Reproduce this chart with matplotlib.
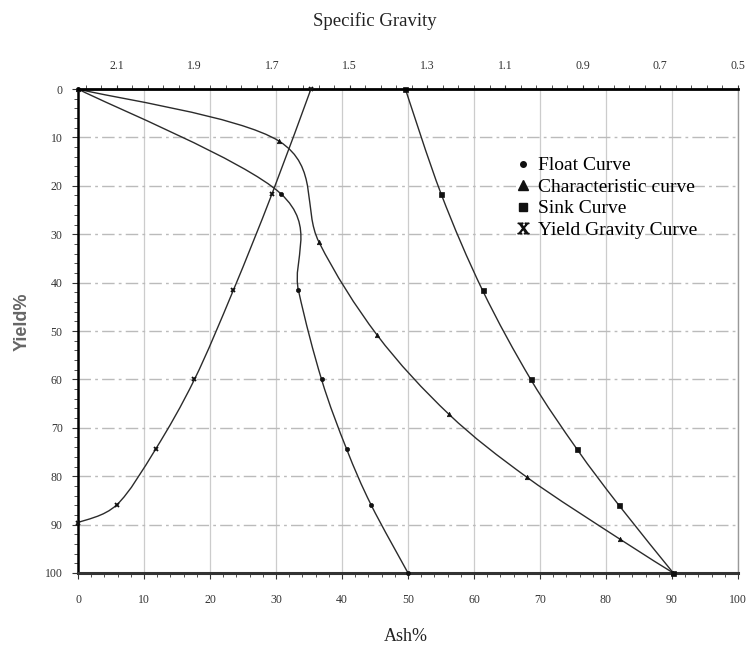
import numpy as np
import matplotlib.pyplot as plt
from matplotlib.path import Path
from matplotlib.patches import PathPatch
from matplotlib.lines import Line2D
from matplotlib.ticker import MultipleLocator, FixedLocator

plt.rcParams['font.family'] = ['Liberation Serif', 'DejaVu Serif']
plt.rcParams['mathtext.fontset'] = 'stix'

# cumulative yield (%) at each fraction boundary
yield_pts = [0, 21.6, 41.6, 60.0, 74.4, 85.9, 100]
float_ash = [0, 30.7, 33.4, 36.9, 40.7, 44.4, 50.0]
sink_ash = [49.6, 55.0, 61.3, 68.6, 75.6, 81.9, 90.2]

# characteristic (instantaneous ash) curve
char_yield = [0, 10.8, 31.6, 50.8, 67.2, 80.2, 93.0, 100]
char_ash = [0, 30.5, 36.5, 45.3, 56.2, 68.0, 82.1, 90.2]

# yield - specific gravity curve
sg = [1.6, 1.7, 1.8, 1.9, 2.0, 2.1, 2.2]
sg_yield = [0, 21.6, 41.6, 60.0, 74.4, 85.9, 89.6]

ash_ticks = list(range(0, 101, 10))
sg_ticks = [2.1, 1.9, 1.7, 1.5, 1.3, 1.1, 0.9, 0.7, 0.5]


def smooth_path(xs, ys):
    # excel-like smoothed line: catmull-rom segments as cubic beziers
    p = np.column_stack([xs, ys]).astype(float)
    n = len(p)
    verts = [p[0]]
    codes = [Path.MOVETO]
    for i in range(n - 1):
        p0 = p[max(i - 1, 0)]
        p1 = p[i]
        p2 = p[i + 1]
        p3 = p[min(i + 2, n - 1)]
        verts += [p1 + (p2 - p0) / 6, p2 - (p3 - p1) / 6, p2]
        codes += [Path.CURVE4] * 3
    return Path(verts, codes)


fig = plt.figure(figsize=(7.48, 6.47), dpi=100)
ax = fig.add_axes([0.1043, 0.1144, 0.8823, 0.748])
ax2 = ax.twiny()

ax.set_xlim(0, 100)
ax.set_ylim(100, 0)
ax2.set_xlim(2.2, 0.5)

line_col = '#2b2b2b'
for a, xs, ys, mk, ms in [(ax, float_ash, yield_pts, 'o', 3.0),
                          (ax, char_ash, char_yield, '^', 3.2),
                          (ax, sink_ash, yield_pts, 's', 3.6),
                          (ax2, sg, sg_yield, 'x', 2.5)]:
    a.add_patch(PathPatch(smooth_path(xs, ys), fill=False, lw=1.0,
                          ec=line_col, zorder=3))
    a.plot(xs, ys, ls='none', marker=mk, ms=ms, color='#111111',
           mew=1.3 if mk == 'x' else 0.5, clip_on=False, zorder=4)

# grid
ax.set_xticks(ash_ticks)
ax.set_yticks(ash_ticks)
ax.xaxis.set_minor_locator(MultipleLocator(2))
ax.yaxis.set_minor_locator(MultipleLocator(2))
ax.grid(axis='x', color='#cccccc', lw=0.9, ls='-')
ax.grid(axis='y', color='#bbbbbb', lw=1.0, ls=(0, (9, 3, 2, 3)))
ax.set_axisbelow(True)

ax.tick_params(axis='x', which='both', direction='out', length=3,
               pad=11, labelsize=8.5, labelcolor='#333333', color='#333333', top=False)
ax.tick_params(axis='x', which='major', length=4)
ax.tick_params(axis='y', which='both', direction='out', length=3,
               pad=7, labelsize=8.5, labelcolor='#333333', color='#333333')
ax.tick_params(axis='y', which='major', length=4)

ax2.set_xticks(sg_ticks)
ax2.xaxis.set_minor_locator(FixedLocator(np.arange(0.5, 2.21, 0.04)))
ax2.tick_params(axis='x', which='both', direction='out', length=3,
                pad=9.5, labelsize=8.5, labelcolor='#333333', color='#333333')

for s in ['top', 'left', 'bottom', 'right']:
    ax2.spines[s].set_visible(False)
ax2.spines['top'].set_visible(True)
ax2.spines['top'].set_linewidth(2.0)
ax.spines['top'].set_visible(False)
ax.spines['left'].set_linewidth(1.8)
ax.spines['bottom'].set_linewidth(2.2)
ax.spines['bottom'].set_color('#333333')
ax.spines['right'].set_linewidth(1.0)
ax.spines['right'].set_color('#999999')

ax.set_xlabel('Ash%', fontsize=13, color='#222222')
ax.xaxis.set_label_coords(0.497, -0.114)
ax.set_ylabel('Yield%', fontsize=13, color='#666666', family='Liberation Sans',
              fontweight='bold')
ax.yaxis.set_label_coords(-0.072, 0.52)
ax2.set_xlabel('Specific Gravity', fontsize=13.5, color='#222222')
ax2.xaxis.set_label_coords(0.45, 1.13)

handles = [
    Line2D([], [], ls='none', marker='o', ms=4, color='#111111'),
    Line2D([], [], ls='none', marker='^', ms=7, color='#111111'),
    Line2D([], [], ls='none', marker='s', ms=5.5, color='#111111'),
    Line2D([], [], ls='none', marker=r'$\mathrm{X}$', ms=8, color='#111111'),
]
labels = ['Float Curve', 'Characteristic curve', 'Sink Curve', 'Yield Gravity Curve']
ax2.legend(handles, labels, loc='upper left', bbox_to_anchor=(0.662, 0.86),
           frameon=False, fontsize=14, handlelength=0.8, handletextpad=0.4,
           labelspacing=0.2, borderpad=0, borderaxespad=0)

fig.savefig('out.png', dpi=100)
